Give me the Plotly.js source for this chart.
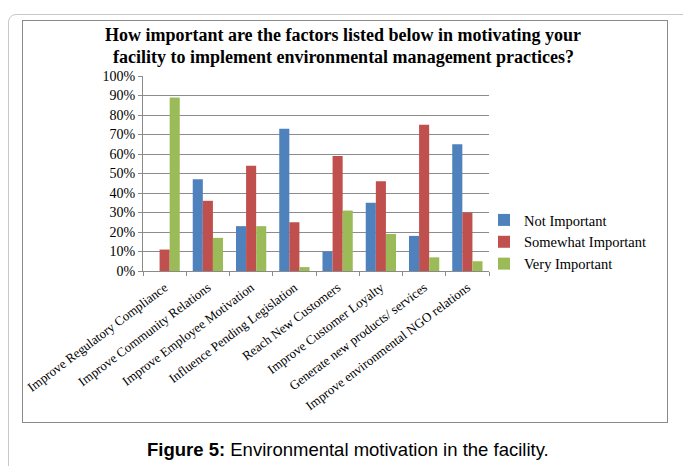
<!DOCTYPE html>
<html>
<head>
<meta charset="utf-8">
<script src="https://cdn.plot.ly/plotly-3.0.1.min.js"></script>
<style>
  html, body { margin: 0; padding: 0; background: #fff; }
  #wrap { position: relative; width: 683px; height: 466px; overflow: hidden; }
  #outer { position: absolute; left: 8px; top: 14px; width: 700px; height: 480px; border: 1px solid #c8c8c8; border-radius: 8px; }
  #inner { position: absolute; left: 22px; top: 20px; width: 644px; height: 401px; border: 1px solid #8a8a8a; }
  #chart { position: absolute; left: 0; top: 0; width: 683px; height: 466px; }
</style>
</head>
<body>
<div id="wrap">
  <div id="outer"></div>
  <div id="inner"></div>
  <div id="chart"></div>
</div>
<script>
const categories = [
  "Improve Regulatory Compliance",
  "Improve Community Relations",
  "Improve Employee Motivation",
  "Influence Pending Legislation",
  "Reach New Customers",
  "Improve Customer Loyalty",
  "Generate new products/ services",
  "Improve environmental NGO relations"
];
const notImportant      = [0, 47, 23, 73, 10, 35, 18, 65];
const somewhatImportant = [11, 36, 54, 25, 59, 46, 75, 30];
const veryImportant     = [89, 17, 23, 2, 31, 19, 7, 5];
const yTickVals  = [0, 10, 20, 30, 40, 50, 60, 70, 80, 90, 100];
const yTickText  = ["0%", "10%", "20%", "30%", "40%", "50%", "60%", "70%", "80%", "90%", "100%"];
const titleLine1 = "How important are the factors listed below in motivating your";
const titleLine2 = "facility to implement environmental management practices?";

const serif = "Liberation Serif, Times New Roman, serif";

const traces = [
  { name: "Not Important", y: notImportant, color: "#4F81BD" },
  { name: "Somewhat Important", y: somewhatImportant, color: "#C0504D" },
  { name: "Very Important", y: veryImportant, color: "#9BBB59" }
].map(s => ({
  type: "bar",
  name: s.name,
  x: categories,
  y: s.y,
  marker: { color: s.color, line: { width: 0 } },
  hoverinfo: "skip"
}));

const L = 143, R = 489, T = 76, B = 271;
const pw = R - L, ph = B - T;

const layout = {
  width: 683, height: 466,
  paper_bgcolor: "rgba(0,0,0,0)",
  plot_bgcolor: "rgba(0,0,0,0)",
  margin: { l: L, r: 683 - R, t: T, b: 466 - B },
  barmode: "group",
  bargap: 0.3,
  bargroupgap: 0,
  showlegend: true,
  title: {
    text: "<b>" + titleLine1 + "</b>",
    font: { family: serif, size: 18, color: "#000" },
    xref: "container", x: 343 / 683, xanchor: "center",
    yref: "container", y: 1 - 35 / 466, yanchor: "middle"
  },
  xaxis: {
    type: "category",
    tickangle: -37,
    tickfont: { family: serif, size: 13, color: "#000" },
    ticklabelstandoff: 3,
    showline: true, linecolor: "#8a8a8a", linewidth: 1,
    ticks: "outside", ticklen: 4, tickcolor: "#8a8a8a",
    tickson: "boundaries",
    showgrid: false,
    fixedrange: true
  },
  yaxis: {
    range: [0, 100],
    tickvals: yTickVals,
    ticktext: yTickText,
    tickfont: { family: serif, size: 14, color: "#000" },
    showline: true, linecolor: "#8a8a8a", linewidth: 1,
    ticks: "outside", ticklen: 4, tickcolor: "#8a8a8a",
    showgrid: true, gridcolor: "#8c8c8c", gridwidth: 1,
    zeroline: false,
    fixedrange: true
  },
  legend: {
    x: (484 - L) / pw, xanchor: "left",
    y: (B - 242) / ph, yanchor: "middle",
    font: { family: serif, size: 14.5, color: "#000" },
    bgcolor: "rgba(0,0,0,0)",
    itemwidth: 30,
    tracegroupgap: 0
  },
  annotations: [
    {
      text: "<b>" + titleLine2 + "</b>",
      xref: "paper", yref: "paper",
      x: (343 - L) / pw, y: (B - 57) / ph,
      xanchor: "center", yanchor: "middle",
      showarrow: false,
      font: { family: serif, size: 18, color: "#000" }
    },
    {
      text: "<b>Figure 5:</b> Environmental motivation in the facility.",
      xref: "paper", yref: "paper",
      x: (348 - L) / pw, y: (B - 449) / ph,
      xanchor: "center", yanchor: "middle",
      showarrow: false,
      font: { family: "Liberation Sans, Arial, sans-serif", size: 18.5, color: "#000" }
    }
  ]
};

Plotly.newPlot("chart", traces, layout, { displayModeBar: false, staticPlot: true });
</script>
</body>
</html>
